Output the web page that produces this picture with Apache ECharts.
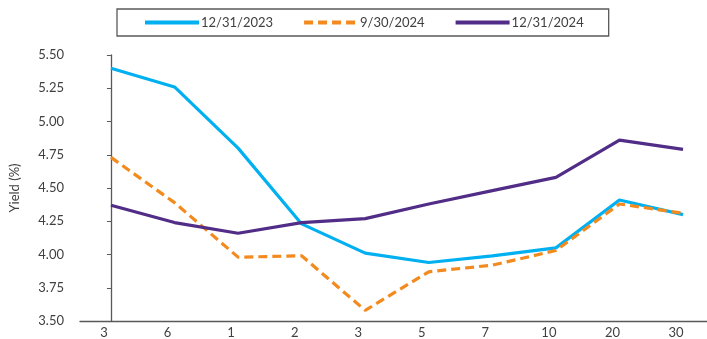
<!DOCTYPE html>
<html>
<head>
<meta charset="utf-8">
<script src="https://cdn.jsdelivr.net/npm/echarts@6/dist/echarts.min.js"></script>
<style>
html,body{margin:0;padding:0;background:#fff;}
#chart{width:707px;height:339px;}
</style>
</head>
<body>
<div id="chart"></div>
<script>
const categories = ['3', '6', '1', '2', '3', '5', '7', '10', '20', '30'];
const seriesNames = ['12/31/2023', '9/30/2024', '12/31/2024'];
const yield20231231 = [5.40, 5.26, 4.80, 4.23, 4.01, 3.94, 3.99, 4.05, 4.41, 4.30];
const yield20240930 = [4.73, 4.39, 3.98, 3.99, 3.58, 3.87, 3.92, 4.03, 4.38, 4.31];
const yield20241231 = [4.37, 4.24, 4.16, 4.24, 4.27, 4.38, 4.48, 4.58, 4.86, 4.79];
const yMin = 3.5, yMax = 5.5, yStep = 0.25;

const textColor = '#404040';
const axisColor = '#595959';
const font = 'Lato';

function pts(arr) { return arr.map((v, i) => [i, v]); }

const chart = echarts.init(document.getElementById('chart'), null, {renderer: 'canvas'});
chart.setOption({
  animation: false,
  backgroundColor: '#fff',
  textStyle: {fontFamily: font, color: textColor},
  legend: {
    left: 117, top: 9,
    padding: [7, 25, 7, 26],
    borderColor: axisColor, borderWidth: 1.3,
    itemWidth: 54, itemHeight: 14, itemGap: 29,
    itemStyle: {opacity: 0, borderWidth: 0},
    lineStyle: {width: 4},
    textStyle: {fontFamily: font, fontSize: 13, color: textColor, padding: [0, 0, 0, -3]},
    data: seriesNames
  },
  grid: {left: 79, right: 0, top: 55, bottom: 17},
  xAxis: {
    type: 'value',
    min: -0.487, max: 9.377,
    axisLine: {show: true, onZero: false, lineStyle: {color: axisColor, width: 1.3}},
    axisTick: {show: false},
    splitLine: {show: false},
    axisLabel: {
      customValues: categories.map((c, i) => i),
      formatter: v => categories[Math.round(v)],
      fontFamily: font, fontSize: 13, color: textColor,
      margin: 5, padding: [0, 14, 0, 0]
    }
  },
  yAxis: {
    type: 'value',
    min: yMin, max: yMax, interval: yStep,
    name: 'Yield (%)',
    nameLocation: 'middle', nameGap: 59, nameRotate: 90,
    nameTextStyle: {fontFamily: font, fontSize: 13, color: textColor},
    axisLine: {show: true, lineStyle: {color: axisColor, width: 1.3}},
    axisTick: {show: true, length: 4, lineStyle: {color: axisColor}},
    splitLine: {show: false},
    axisLabel: {formatter: v => v.toFixed(2), fontFamily: font, fontSize: 13, color: textColor, margin: 16}
  },
  series: [
    {name: seriesNames[0], type: 'line', data: pts(yield20231231), symbol: 'none',
     lineStyle: {color: '#00B0F0', width: 3.2}, itemStyle: {color: '#00B0F0'}},
    {name: seriesNames[1], type: 'line', data: pts(yield20240930), symbol: 'none',
     lineStyle: {color: '#F38A1E', width: 3.2, type: [9, 5]}, itemStyle: {color: '#F38A1E'}},
    {name: seriesNames[2], type: 'line', data: pts(yield20241231), symbol: 'none',
     lineStyle: {color: '#512D87', width: 3.2}, itemStyle: {color: '#512D87'}}
  ]
});
</script>
</body>
</html>
